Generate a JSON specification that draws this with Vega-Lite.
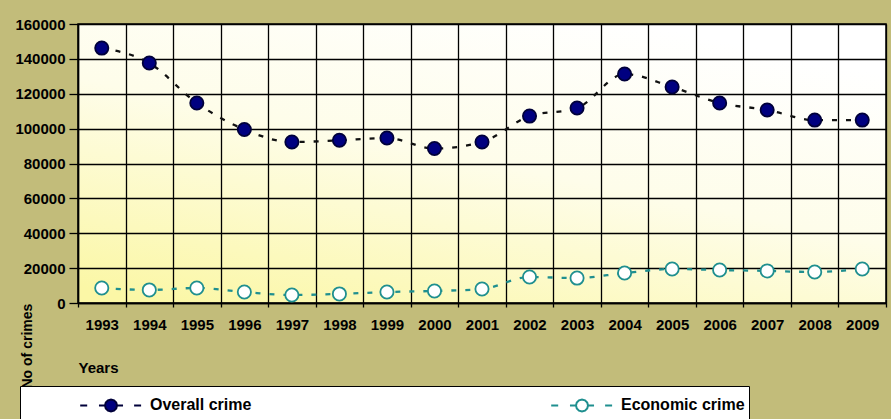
{
  "$schema": "https://vega.github.io/schema/vega-lite/v6.json",
  "width": 808,
  "height": 279,
  "autosize": {"type": "none"},
  "padding": {"left": 78, "top": 24, "right": 5, "bottom": 116},
  "background": "#c2bc7a",
  "config": {
    "font": "Liberation Sans",
    "view": {
      "stroke": "#000000",
      "strokeWidth": 1.5,
      "fill": {
        "gradient": "linear",
        "x1": 0.1, "y1": 1, "x2": 0.7, "y2": 0,
        "stops": [
          {"offset": 0, "color": "#fbf7a6"},
          {"offset": 0.55, "color": "#fefdea"},
          {"offset": 1, "color": "#ffffff"}
        ]
      }
    },
    "axis": {
      "labelFont": "Liberation Sans",
      "labelFontWeight": "bold",
      "labelFontSize": 15,
      "labelColor": "#000000",
      "titleFont": "Liberation Sans",
      "titleFontWeight": "bold",
      "titleColor": "#000000",
      "gridColor": "#000000",
      "gridWidth": 1.3,
      "gridOpacity": 1,
      "domainColor": "#000000",
      "tickColor": "#000000",
      "tickWidth": 1.3,
      "domainWidth": 1.5
    },
    "legend": {
      "orient": "none",
      "legendX": -58,
      "legendY": 362,
      "direction": "horizontal",
      "columns": 2,
      "columnPadding": 243,
      "padding": 4,
      "fillColor": "#ffffff",
      "strokeColor": "#000000",
      "symbolStrokeWidth": 2,
      "symbolOffset": 72,
      "labelOffset": 24,
      "labelFont": "Liberation Sans",
      "labelFontWeight": "bold",
      "labelFontSize": 16,
      "labelColor": "#000000"
    }
  },
  "data": {
    "values": [
      {"year": "1993", "series": "Overall crime", "value": 146200},
      {"year": "1994", "series": "Overall crime", "value": 137600},
      {"year": "1995", "series": "Overall crime", "value": 114700},
      {"year": "1996", "series": "Overall crime", "value": 99500},
      {"year": "1997", "series": "Overall crime", "value": 92300},
      {"year": "1998", "series": "Overall crime", "value": 93300},
      {"year": "1999", "series": "Overall crime", "value": 94600},
      {"year": "2000", "series": "Overall crime", "value": 88600},
      {"year": "2001", "series": "Overall crime", "value": 92300},
      {"year": "2002", "series": "Overall crime", "value": 107200},
      {"year": "2003", "series": "Overall crime", "value": 111800},
      {"year": "2004", "series": "Overall crime", "value": 131300},
      {"year": "2005", "series": "Overall crime", "value": 123900},
      {"year": "2006", "series": "Overall crime", "value": 114700},
      {"year": "2007", "series": "Overall crime", "value": 110700},
      {"year": "2008", "series": "Overall crime", "value": 104900},
      {"year": "2009", "series": "Overall crime", "value": 104900},
      {"year": "1993", "series": "Economic crime", "value": 8600},
      {"year": "1994", "series": "Economic crime", "value": 7500},
      {"year": "1995", "series": "Economic crime", "value": 8600},
      {"year": "1996", "series": "Economic crime", "value": 6300},
      {"year": "1997", "series": "Economic crime", "value": 4600},
      {"year": "1998", "series": "Economic crime", "value": 5200},
      {"year": "1999", "series": "Economic crime", "value": 6300},
      {"year": "2000", "series": "Economic crime", "value": 6900},
      {"year": "2001", "series": "Economic crime", "value": 8000},
      {"year": "2002", "series": "Economic crime", "value": 14900},
      {"year": "2003", "series": "Economic crime", "value": 14300},
      {"year": "2004", "series": "Economic crime", "value": 17200},
      {"year": "2005", "series": "Economic crime", "value": 19500},
      {"year": "2006", "series": "Economic crime", "value": 18900},
      {"year": "2007", "series": "Economic crime", "value": 18400},
      {"year": "2008", "series": "Economic crime", "value": 17800},
      {"year": "2009", "series": "Economic crime", "value": 19500}
    ]
  },
  "encoding": {
    "x": {
      "field": "year",
      "type": "ordinal",
      "scale": {"paddingInner": 0, "paddingOuter": 0},
      "axis": {
        "title": "Years",
        "labelAngle": 0,
        "bandPosition": 0,
        "tickBand": "extent",
        "grid": true,
        "tickSize": 4,
        "labelPadding": 10,
        "titleFontSize": 15,
        "titleAlign": "left",
        "titleAnchor": "start",
        "titleX": 0,
        "titleY": 64,
        "titleBaseline": "middle"
      }
    },
    "y": {
      "field": "value",
      "type": "quantitative",
      "scale": {"domain": [0, 160000], "nice": false},
      "axis": {
        "title": "No of crimes",
        "values": [0, 20000, 40000, 60000, 80000, 100000, 120000, 140000, 160000],
        "format": "d",
        "tickSize": 9,
        "labelPadding": 4,
        "titleFontSize": 14,
        "titleAngle": -90,
        "titleAlign": "left",
        "titleBaseline": "middle",
        "titleX": -51,
        "titleY": 364
      }
    }
  },
  "layer": [
    {
      "mark": {"type": "line", "strokeDash": [5, 9], "strokeWidth": 2.3, "interpolate": "monotone"},
      "encoding": {
        "color": {
          "field": "series",
          "type": "nominal",
          "scale": {"range": ["#1f8f8f", "#111111"]},
          "legend": null
        }
      }
    },
    {
      "mark": {"type": "point", "filled": true, "size": 175, "strokeWidth": 1.8, "opacity": 1},
      "encoding": {
        "fill": {
          "field": "series",
          "type": "nominal",
          "scale": {"domain": ["Overall crime", "Economic crime"], "range": ["#000080", "#ffffff"]},
          "legend": {
            "title": null,
            "labelExpr": "datum.label == 'Economic crime' ? datum.label + '                                   ' : datum.label",
            "symbolType": "M-2.2,0H-1.7M-0.86,0H-0.43M0.43,0H0.86M1.65,0H2.15M0.43,0L0.372,0.215L0.215,0.372L0,0.43L-0.215,0.372L-0.372,0.215L-0.43,0L-0.372,-0.215L-0.215,-0.372L0,-0.43L0.215,-0.372L0.372,-0.215Z",
            "symbolSize": 784
          }
        },
        "stroke": {
          "field": "series",
          "type": "nominal",
          "scale": {"domain": ["Overall crime", "Economic crime"], "range": ["#00003a", "#1f8f8f"]},
          "legend": {
            "title": null,
            "labelExpr": "datum.label == 'Economic crime' ? datum.label + '                                   ' : datum.label",
            "symbolType": "M-2.2,0H-1.7M-0.86,0H-0.43M0.43,0H0.86M1.65,0H2.15M0.43,0L0.372,0.215L0.215,0.372L0,0.43L-0.215,0.372L-0.372,0.215L-0.43,0L-0.372,-0.215L-0.215,-0.372L0,-0.43L0.215,-0.372L0.372,-0.215Z",
            "symbolSize": 784
          }
        }
      }
    }
  ]
}
